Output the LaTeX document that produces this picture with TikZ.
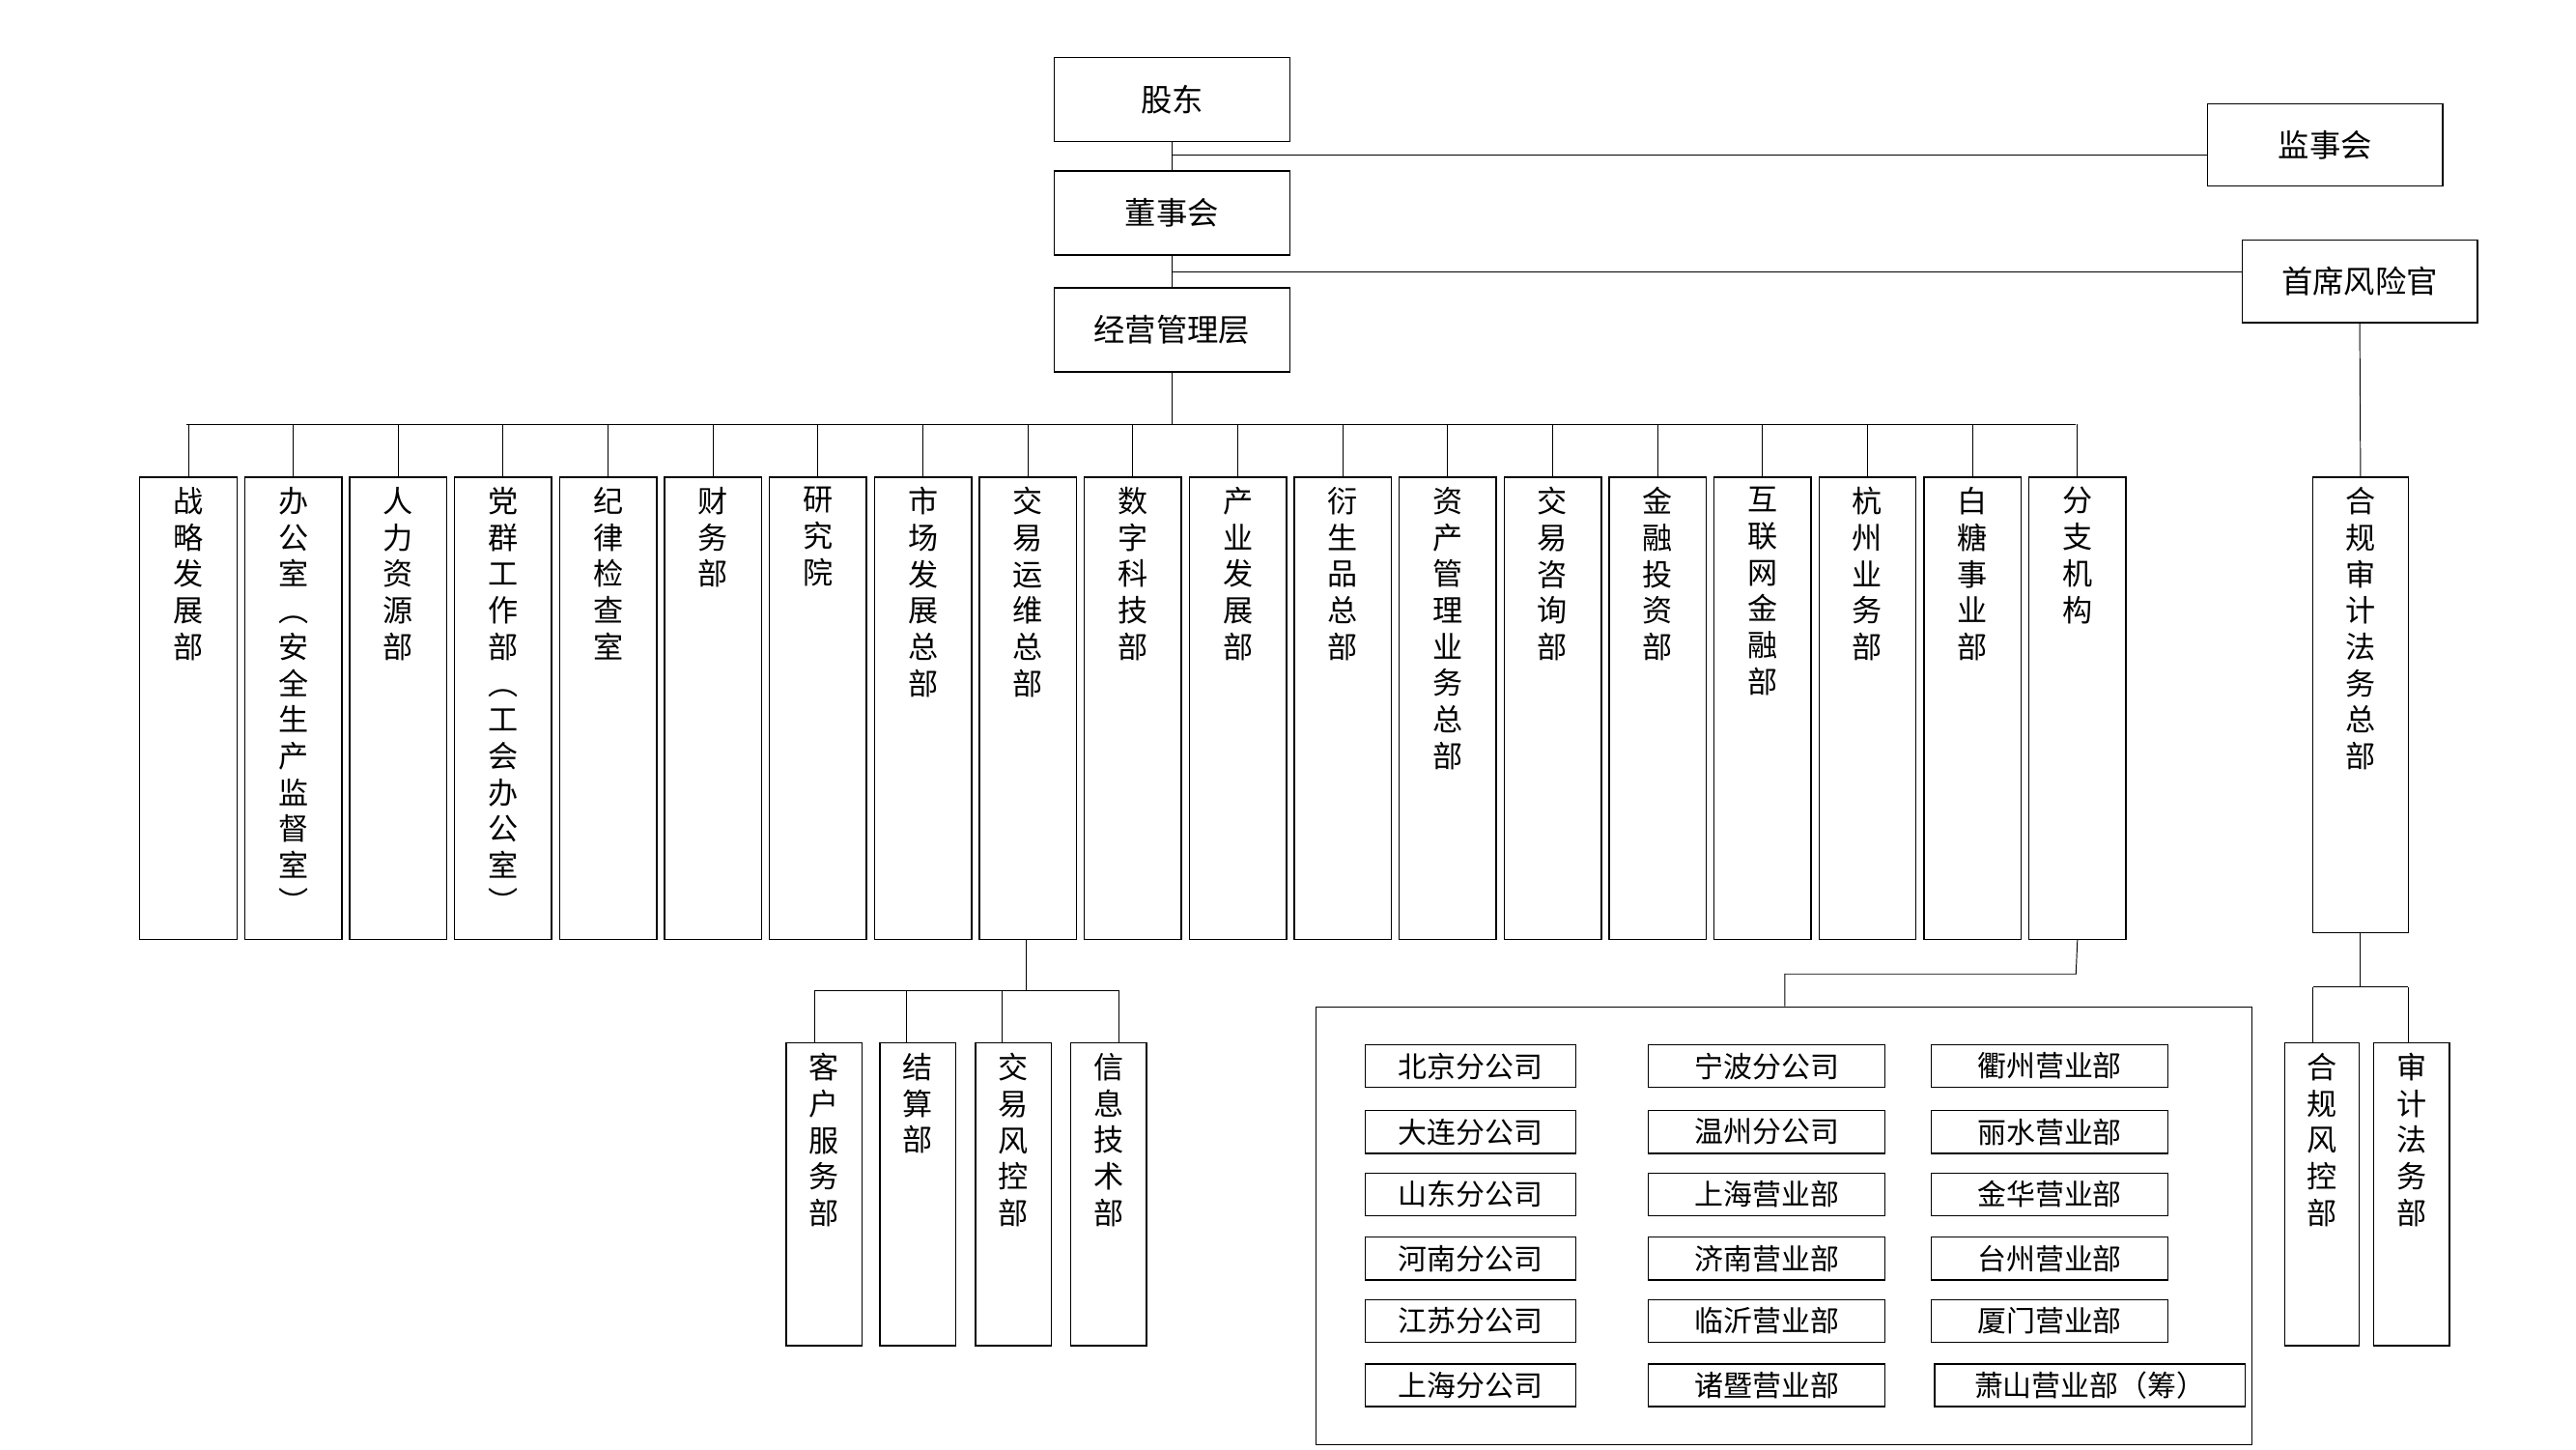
\documentclass[tikz,border=0pt]{standalone}
\usepackage{fontspec}
\setmainfont{Noto Sans CJK SC}
\begin{document}
\begin{tikzpicture}[x=0.05cm,y=-0.05cm,
 box/.style={draw,line width=1.2pt,inner sep=0pt},
 vt/.style={anchor=north,align=center,font=\fontsize{26}{31.5}\selectfont,inner sep=0pt},
 ht/.style={font=\fontsize{27}{30}\selectfont},
 st/.style={font=\fontsize{25}{28}\selectfont},
 ln/.style={line width=0.8pt}]
\useasboundingbox (0,0) rectangle (1566,880.9);
% top
\node[box,minimum width=143*0.05cm,minimum height=51*0.05cm,ht] (gd) at (712.5,60.5) {股东};
\node[box,minimum width=143*0.05cm,minimum height=51*0.05cm,ht] (dsh) at (712.5,129.5) {董事会};
\node[box,minimum width=143*0.05cm,minimum height=51*0.05cm,ht] (jy) at (712.5,200.5) {经营管理层};
\node[box,minimum width=143*0.05cm,minimum height=50*0.05cm,ht] (js) at (1413.5,88) {监事会};
\node[box,minimum width=143*0.05cm,minimum height=50*0.05cm,ht] (sx) at (1434.5,171) {首席风险官};
\draw[ln] (gd.south) -- (dsh.north);
\draw[ln] (dsh.south) -- (jy.north);
\coordinate (p1) at (712.5,94);
\draw[ln] (p1) -- (js.west|-p1);
\coordinate (p2) at (712.5,165);
\draw[ln] (p2) -- (sx.west|-p2);
% departments
\coordinate (bus) at (712.5,258);
\draw[ln] (jy.south) -- (bus);
\draw[ln] (113.5,258) -- (1262,258);
\foreach \i/\t in {0/战\\略\\发\\展\\部,1/办\\公\\室\\︵\\安\\全\\生\\产\\监\\督\\室\\︶,2/人\\力\\资\\源\\部,3/党\\群\\工\\作\\部\\︵\\工\\会\\办\\公\\室\\︶,4/纪\\律\\检\\查\\室,5/财\\务\\部,6/研\\究\\院,7/市\\场\\发\\展\\总\\部,8/交\\易\\运\\维\\总\\部,9/数\\字\\科\\技\\部,10/产\\业\\发\\展\\部,11/衍\\生\\品\\总\\部,12/资\\产\\管\\理\\业\\务\\总\\部,13/交\\易\\咨\\询\\部,14/金\\融\\投\\资\\部,15/互\\联\\网\\金\\融\\部,16/杭\\州\\业\\务\\部,17/白\\糖\\事\\业\\部,18/分\\支\\机\\构}{
 \pgfmathsetmacro{\xx}{114.5+63.8*\i}
 \node[box,minimum width=59*0.05cm,minimum height=281*0.05cm] (d\i) at (\xx,430.5) {};
 \node[vt] at (\xx,296) {\t};
 \draw[ln] (d\i.north) -- (\xx,258);
}
% compliance
\node[box,minimum width=58*0.05cm,minimum height=277*0.05cm] (hg) at (1435,428.5) {};
\node[vt] at (1435,296) {合\\规\\审\\计\\法\\务\\总\\部};
\draw[ln] (sx.south) -- (hg.north);
\coordinate (hb) at (1435,600);
\draw[ln] (hg.south) -- (hb);
\draw[ln] (1406,600) -- (1464,600);
\node[box,minimum width=45*0.05cm,minimum height=184*0.05cm] (h1) at (1411.5,726) {};
\node[vt] at (1411.5,640) {合\\规\\风\\控\\部};
\node[box,minimum width=46*0.05cm,minimum height=184*0.05cm] (h2) at (1466,726) {};
\node[vt] at (1466,640) {审\\计\\法\\务\\部};
\draw[ln] (1406,600) -- (1406,634);
\draw[ln] (1464,600) -- (1464,634);
% trade ops children
\coordinate (tb) at (624,602);
\draw[ln] (624,571) -- (tb);
\draw[ln] (495,602) -- (680,602);
\foreach \n/\x/\lx/\t in {c1/501/495/客\\户\\服\\务\\部,c2/558/551/结\\算\\部,c3/616/609/交\\易\\风\\控\\部,c4/674/680/信\\息\\技\\术\\部}{
 \node[box,minimum width=46*0.05cm,minimum height=184*0.05cm] (\n) at (\x,726) {};
 \node[vt] at (\x,640) {\t};
 \draw[ln] (\lx,602) -- (\lx,634);
}
% branches
\node[box,minimum width=569*0.05cm,minimum height=266*0.05cm] (br) at (1084.5,745) {};
\coordinate (b1) at (1262,592);
\coordinate (b2) at (1085,592);
\draw[ln] (d18.south) -- (b1) -- (b2) -- (b2|-br.north);
\foreach \y/\a/\b/\c [count=\k] in {648/北京分公司/宁波分公司/衢州营业部,688/大连分公司/温州分公司/丽水营业部,726/山东分公司/上海营业部/金华营业部,765/河南分公司/济南营业部/台州营业部,803/江苏分公司/临沂营业部/厦门营业部}{
 \node[box,minimum width=128*0.05cm,minimum height=26*0.05cm,st] (a\k) at (894,\y) {\a};
 \node[box,minimum width=144*0.05cm,minimum height=26*0.05cm,st] (b\k) at (1074,\y) {\b};
 \node[box,minimum width=144*0.05cm,minimum height=26*0.05cm,st] (e\k) at (1246,\y) {\c};
}
\node[box,minimum width=128*0.05cm,minimum height=26*0.05cm,st] (a6) at (894,842) {上海分公司};
\node[box,minimum width=144*0.05cm,minimum height=26*0.05cm,st] (b6) at (1074,842) {诸暨营业部};
\node[box,minimum width=189*0.05cm,minimum height=26*0.05cm,st] (e6) at (1270.5,842) {萧山营业部（筹）};
\end{tikzpicture}
\end{document}
